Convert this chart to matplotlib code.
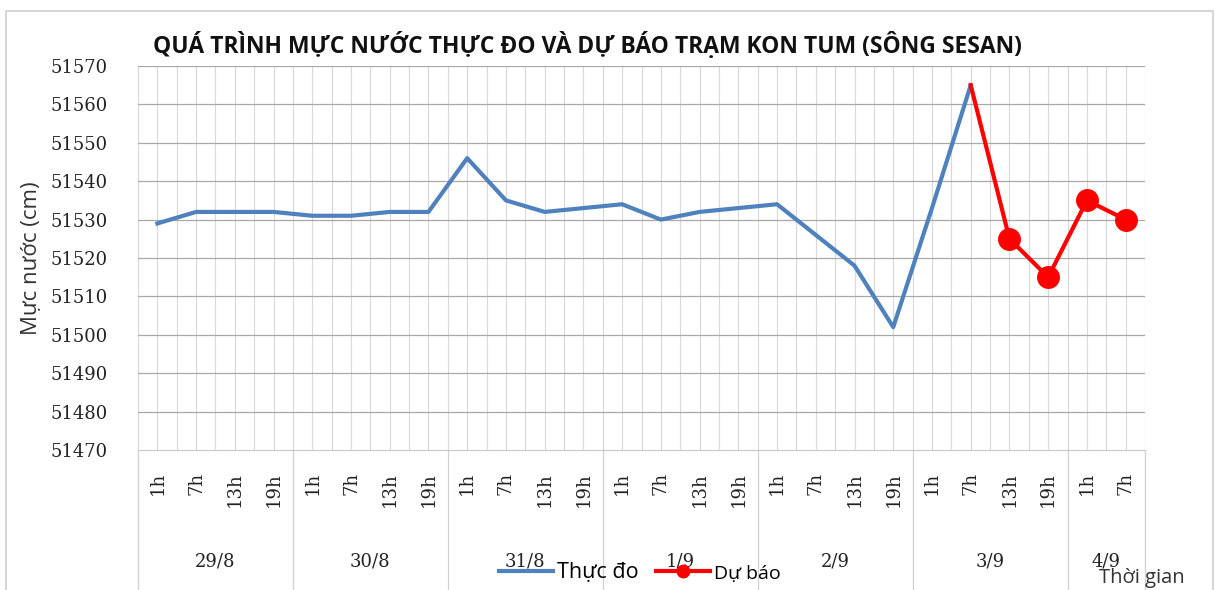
import numpy as np
import matplotlib
matplotlib.use("Agg")
import matplotlib.pyplot as plt
from matplotlib.patches import Rectangle
from matplotlib.lines import Line2D

# du lieu doc tu hinh
days = ["29/8", "30/8", "31/8", "1/9", "2/9", "3/9", "4/9"]
day_sizes = [4, 4, 4, 4, 4, 4, 2]
hours = ["1h", "7h", "13h", "19h"] * 6 + ["1h", "7h"]
thuc_do = [51529, 51532, 51532, 51532, 51531, 51531, 51532, 51532,
           51546, 51535, 51532, 51533, 51534, 51530, 51532, 51533,
           51534, 51526, 51518, 51502, 51533, 51565]
du_bao = [51565, 51525, 51515, 51535, 51530]
du_bao_start = 21
y_ticks = list(range(51470, 51571, 10))

sans = ["Open Sans", "DejaVu Sans"]
serif = ["DejaVu Serif"]

fig = plt.figure(figsize=(12.15, 5.90), dpi=100)
ax = fig.add_axes([138 / 1215, 1 - 450 / 590, (1145 - 138) / 1215, (450 - 66) / 590])

n = len(hours)
x = np.arange(n)

# luoi
for gx in np.arange(-0.5, n, 0.5):
    ax.axvline(gx, color="#d8d8d8", lw=0.8, zorder=0)
for gy in y_ticks[1:]:
    ax.axhline(gy, color="#a8a8a8", lw=0.9, zorder=1)

ax.plot(x[:len(thuc_do)], thuc_do, color="#4f81bd", lw=3, zorder=3)
xb = x[du_bao_start:du_bao_start + len(du_bao)]
ax.plot(xb, du_bao, color="#ff0000", lw=3, zorder=4)
ax.plot(xb[1:], du_bao[1:], "o", color="#ff0000", ms=15.5, zorder=5)

ax.set_xlim(-0.5, n - 0.5)
ax.set_ylim(51470, 51570)
ax.set_yticks(y_ticks)
ax.set_yticklabels([str(v) for v in y_ticks], family=serif, fontsize=13, color="#222222")
ax.tick_params(axis="y", length=0, pad=22)
ax.set_xticks(x)
ax.set_xticklabels(hours, rotation=90, family=serif, fontsize=13, va="top", color="#222222")
ax.tick_params(axis="x", length=0, pad=16)
for s in ["top", "right", "left"]:
    ax.spines[s].set_visible(False)
ax.spines["bottom"].set_color("#c8c8c8")

# nhom ngay
start = -0.5
for d, k in zip(days, day_sizes):
    ax.text(start + k / 2, -0.29, d, transform=ax.get_xaxis_transform(),
            ha="center", va="center", family=serif, fontsize=13, color="#222222")
    start += k
bounds = np.cumsum([0] + day_sizes) - 0.5
for b in bounds:
    ax.plot([b, b], [0, -0.4], transform=ax.get_xaxis_transform(),
            color="#d0d0d0", lw=0.9, clip_on=False)

ax.set_ylabel("Mực nước (cm)", family=sans, fontsize=16, color="#333333")
ax.yaxis.set_label_coords(-0.095, 0.5)

fig.text(587 / 1215, 1 - 45 / 590, "QUÁ TRÌNH MỰC NƯỚC THỰC ĐO VÀ DỰ BÁO TRẠM KON TUM (SÔNG SESAN)",
         ha="center", va="center", family=sans, fontsize=16.5, fontweight="bold", color="#111111")

fig.text(1142 / 1215, 1 - 578 / 590, "Thời gian", ha="center", va="center",
         family=sans, fontsize=14.5, color="#333333")

handles = [Line2D([], [], color="#4f81bd", lw=3),
           Line2D([], [], color="#ff0000", lw=3, marker="o", ms=9)]
leg = fig.legend(handles, ["Thực đo", "Dự báo"], loc="center",
                 bbox_to_anchor=(640 / 1215, 1 - 573 / 590), ncol=2, frameon=False,
                 prop={"family": sans, "size": 15.5}, handlelength=2.5,
                 handletextpad=0.2, columnspacing=0.8)
leg.get_texts()[1].set_fontsize(14)

fig.patches.append(Rectangle((6 / 1215, -0.01), 1207 / 1215, 1 - 11 / 590 + 0.01,
                             transform=fig.transFigure, fill=False,
                             edgecolor="#d0d0d0", lw=1.2))

fig.savefig("out.png", dpi=100)
